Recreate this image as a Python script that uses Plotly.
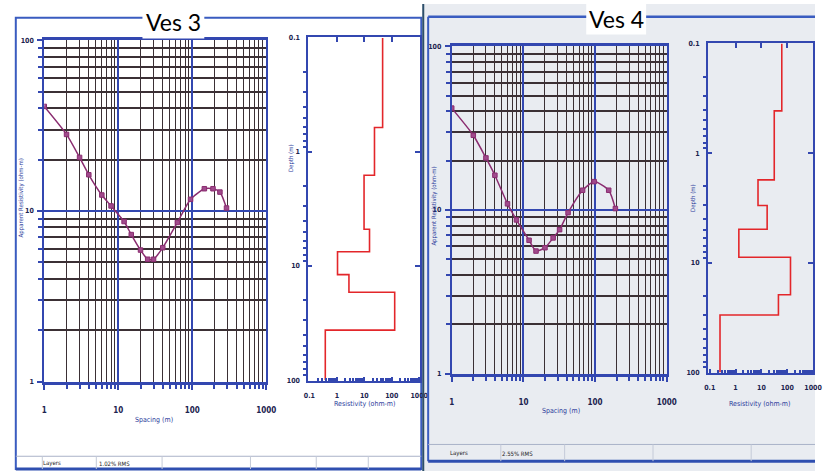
import plotly.graph_objects as go

W, H = 825, 475

# ---------------- data ----------------
# VES 3 field curve
ves3_spacing = [1, 2, 3, 4, 6, 8, 12, 15, 20, 25, 30, 40, 63, 95, 146, 191, 237, 291]
ves3_app_res = [41, 28.1, 20.6, 16.3, 12.4, 10.7, 8.67, 7.27, 5.9, 5.21, 5.21, 6.09, 8.56, 11.7, 13.5, 13.5, 12.9, 10.4]
# VES 3 layer model
ves3_layer_res = [46.5, 23.5, 9.8, 15.5, 1.06, 2.76, 128, 0.38]
ves3_layer_bottom = [0.61, 1.6, 4.76, 7.5, 11.9, 17, 36.5, 100]

# VES 4 field curve
ves4_spacing = [1, 2, 3, 4, 6, 8, 12, 15, 20, 26, 32, 42, 67, 97, 155, 192]
ves4_app_res = [41.9, 28.6, 20.8, 16.3, 10.9, 8.7, 6.53, 5.61, 5.88, 6.75, 7.58, 9.63, 13.2, 14.9, 13.2, 10.2]
# VES 4 layer model
ves4_layer_res = [61.6, 31.5, 7.4, 16.7, 1.34, 134, 45.7, 0.25]
ves4_layer_bottom = [0.41, 1.75, 3.0, 4.95, 8.9, 19.6, 30, 100]

curve_ticks = [1, 10, 100, 1000]
res_ticks = [0.1, 1, 10, 100, 1000]
depth_ticks = [0.1, 1, 10, 100]
titles = ["Ves 3", "Ves 4"]
rms_text = ["1.02% RMS", "2.55% RMS"]

# ---------------- helpers ----------------
BLUE = "#3347b0"
DARK = "#3b3035"
PURPLE = "#8a2c70"
RED = "#e3262a"
TICKFONT = dict(family="Liberation Sans Narrow, DejaVu Sans Condensed", size=8, color="#1c2350", weight="bold")
TICKFONT_Y = dict(family="Liberation Sans Narrow, DejaVu Sans Condensed", size=7, color="#1c2350", weight="bold")
TICKFONT_S = dict(family="Liberation Sans Narrow, DejaVu Sans Condensed", size=7, color="#1c2350", weight="bold")
LABFONT = dict(family="Liberation Sans Narrow, DejaVu Sans Condensed", size=7, color="#2a3a9a")


def px_x(a, b):
    return [a / W, b / W]


def px_y(top, bottom):
    return [1 - bottom / H, 1 - top / H]


def steps(res, bottoms, top=0.1):
    xs, ys = [], []
    t = top
    for r, b in zip(res, bottoms):
        xs += [r, r]
        ys += [t, b]
        t = b
    return xs, ys


def minor_vals(e0, e1):
    return [m * 10 ** e for e in range(e0, e1) for m in range(2, 10)]


fig = go.Figure()

# curves
fig.add_trace(go.Scatter(x=ves3_spacing, y=ves3_app_res, mode="lines+markers",
                         line=dict(color=PURPLE, width=1.5, shape="spline", smoothing=0.6),
                         marker=dict(symbol="square", size=4.5, color="#a04a8c", line=dict(color=PURPLE, width=1)),
                         xaxis="x", yaxis="y", showlegend=False))
x3, y3 = steps(ves3_layer_res, ves3_layer_bottom)
fig.add_trace(go.Scatter(x=x3, y=y3, mode="lines", line=dict(color=RED, width=1.6),
                         xaxis="x2", yaxis="y2", showlegend=False))
fig.add_trace(go.Scatter(x=ves4_spacing, y=ves4_app_res, mode="lines+markers",
                         line=dict(color=PURPLE, width=1.5, shape="spline", smoothing=0.6),
                         marker=dict(symbol="square", size=4.5, color="#a04a8c", line=dict(color=PURPLE, width=1)),
                         xaxis="x3", yaxis="y3", showlegend=False))
x4, y4 = steps(ves4_layer_res, ves4_layer_bottom)
fig.add_trace(go.Scatter(x=x4, y=y4, mode="lines", line=dict(color=RED, width=1.6),
                         xaxis="x4", yaxis="y4", showlegend=False))
# empty traces so the top/right tick axes of the layer plots are drawn
fig.add_trace(go.Scatter(x=[], y=[], xaxis="x5", yaxis="y5", showlegend=False, hoverinfo="skip"))
fig.add_trace(go.Scatter(x=[], y=[], xaxis="x6", yaxis="y6", showlegend=False, hoverinfo="skip"))


def curve_xaxis(domain, anchor):
    return dict(type="log", range=[0, 3], domain=domain, anchor=anchor,
                tickmode="array", tickvals=curve_ticks, ticktext=[str(v) for v in curve_ticks],
                showgrid=True, gridcolor=BLUE, gridwidth=1.5,
                minor=dict(tickmode="array", tickvals=minor_vals(0, 3), showgrid=True, gridcolor=DARK,
                           gridwidth=1.1, ticks="outside", ticklen=4, tickcolor=BLUE),
                showline=True, linecolor=BLUE, linewidth=3, mirror=True,
                ticks="outside", ticklen=5, tickcolor=BLUE, tickwidth=1.5,
                tickfont=TICKFONT, ticklabelstandoff=14, zeroline=False, fixedrange=True)


def curve_yaxis(domain, anchor):
    return dict(type="log", range=[0, 2], domain=domain, anchor=anchor,
                tickmode="array", tickvals=[1, 10, 100], ticktext=["1", "10", "100"],
                showgrid=True, gridcolor=BLUE, gridwidth=2,
                minor=dict(tickmode="array", tickvals=minor_vals(0, 2), showgrid=True, gridcolor=DARK,
                           gridwidth=2, ticks="outside", ticklen=4, tickcolor=BLUE),
                showline=True, linecolor=BLUE, linewidth=2, mirror=True,
                ticks="outside", ticklen=5, tickcolor=BLUE, tickwidth=1.5,
                tickfont=TICKFONT_Y, ticklabelstandoff=2, zeroline=False, fixedrange=True)


def layer_xaxis(domain, anchor, rng):
    return dict(type="log", range=rng, domain=domain, anchor=anchor,
                tickmode="array", tickvals=res_ticks, ticktext=["0.1", "1", "10", "100", "1000"],
                showgrid=False,
                minor=dict(tickmode="array", tickvals=minor_vals(-1, 3), ticks="inside", ticklen=3,
                           tickcolor=BLUE, showgrid=False),
                showline=True, linecolor=BLUE, linewidth=2, mirror=True,
                ticks="inside", ticklen=4, tickcolor=BLUE, tickwidth=1.5,
                tickfont=TICKFONT_S, ticklabelstandoff=7, zeroline=False, fixedrange=True)


def layer_yaxis(domain, anchor, rng):
    return dict(type="log", range=rng, domain=domain, anchor=anchor,
                tickmode="array", tickvals=depth_ticks, ticktext=["0.1", "1", "10", "100"],
                showgrid=False,
                minor=dict(tickmode="array", tickvals=minor_vals(-1, 2), ticks="outside", ticklen=3,
                           tickcolor=BLUE, tickwidth=1.5, showgrid=False),
                showline=True, linecolor=BLUE, linewidth=2, mirror=True,
                ticks="inside", ticklen=4, tickcolor=BLUE, tickwidth=1.5,
                tickfont=TICKFONT_S, ticklabelstandoff=5, zeroline=False, fixedrange=True)


def top_axis(domain, anchor, rng):
    return dict(type="log", range=rng, domain=domain, anchor=anchor, side="top",
                tickmode="array", tickvals=[1, 10, 100], showticklabels=False,
                ticks="inside", ticklen=5, tickwidth=1.5, tickcolor=BLUE,
                showgrid=False, showline=False, zeroline=False, fixedrange=True)


def right_axis(domain, anchor, rng):
    return dict(type="log", range=rng, domain=domain, anchor=anchor, side="right",
                tickmode="array", tickvals=[1, 10], showticklabels=False,
                ticks="inside", ticklen=5, tickwidth=1.5, tickcolor=BLUE,
                showgrid=False, showline=False, zeroline=False, fixedrange=True)


shapes = []
# right screenshot background
shapes.append(dict(type="rect", xref="paper", yref="paper", x0=425 / W, x1=1, y0=0, y1=1,
                   fillcolor="#e9ecf1", line=dict(width=0), layer="below"))
# left panel frame
shapes.append(dict(type="rect", xref="paper", yref="paper", x0=11 / W, x1=424 / W, y0=1 - 473 / H, y1=1 - 14 / H,
                   line=dict(color="#3a5cc0", width=2), layer="below"))
shapes.append(dict(type="line", xref="paper", yref="paper", x0=11 / W, x1=424 / W, y0=1 - 473 / H, y1=1 - 473 / H,
                   line=dict(color="#2f4fb0", width=3)))
shapes.append(dict(type="line", xref="paper", yref="paper", x0=11 / W, x1=424 / W, y0=1 - 460 / H, y1=1 - 460 / H,
                   line=dict(color="#aab2c8", width=1)))
for sx in [38, 93, 160, 250, 317, 370]:
    shapes.append(dict(type="line", xref="paper", yref="paper", x0=sx / W, x1=sx / W, y0=1 - 473 / H, y1=1 - 460 / H,
                       line=dict(color="#c4cad8", width=1)))
# divider between screenshots
shapes.append(dict(type="line", xref="paper", yref="paper", x0=426 / W, x1=426 / W, y0=0, y1=1,
                   line=dict(color="#2d4f6a", width=2)))
# right panel frame
shapes.append(dict(type="line", xref="paper", yref="paper", x0=431 / W, x1=431 / W, y0=1 - 465 / H, y1=1 - 13 / H,
                   line=dict(color="#3a5cc0", width=2)))
shapes.append(dict(type="line", xref="paper", yref="paper", x0=431 / W, x1=1, y0=1 - 13 / H, y1=1 - 13 / H,
                   line=dict(color="#3a5cc0", width=2.5)))
shapes.append(dict(type="line", xref="paper", yref="paper", x0=431 / W, x1=1, y0=1 - 465 / H, y1=1 - 465 / H,
                   line=dict(color="#2f4fb0", width=3)))
shapes.append(dict(type="line", xref="paper", yref="paper", x0=431 / W, x1=1, y0=1 - 448 / H, y1=1 - 448 / H,
                   line=dict(color="#aab2c8", width=1)))
for sx in [505, 570, 660, 760]:
    shapes.append(dict(type="line", xref="paper", yref="paper", x0=sx / W, x1=sx / W, y0=1 - 465 / H, y1=1 - 448 / H,
                       line=dict(color="#c4cad8", width=1)))
# title boxes
shapes.append(dict(type="rect", xref="paper", yref="paper", x0=140 / W, x1=203 / W, y0=1 - 35 / H, y1=1,
                   fillcolor="white", line=dict(width=0)))
shapes.append(dict(type="rect", xref="paper", yref="paper", x0=592 / W, x1=653 / W, y0=1 - 31 / H, y1=1,
                   fillcolor="white", line=dict(width=0)))

ann = []
TFONT = dict(family="Lato, Open Sans, sans-serif", size=23, color="black")


def lab(text, x, y, rot=0, font=LABFONT):
    ann.append(dict(text=text, x=x / W, y=1 - y / H, xref="paper", yref="paper", showarrow=False,
                    xanchor="center", yanchor="middle", textangle=rot, font=font))


lab(titles[0], 171.5, 18, 0, TFONT)
lab(titles[1], 622.5, 15, 0, TFONT)
lab("Spacing (m)", 152, 423)
lab("Spacing (m)", 566, 414)
lab("Apparent Resistivity (ohm-m)", 16, 197, -90, dict(LABFONT, size=6))
lab("Apparent Resistivity (ohm-m)", 436, 206, -90, dict(LABFONT, size=6))
lab("Depth (m)", 292, 157, -90, dict(LABFONT, size=6))
lab("Depth (m)", 700, 197, -90, dict(LABFONT, size=6))
lab("Resistivity (ohm-m)", 366, 407)
lab("Resistivity (ohm-m)", 768, 407)
SFONT = dict(family="Liberation Sans Narrow, DejaVu Sans Condensed", size=6, color="#222")
lab("Layers", 48, 467, 0, SFONT)
lab(rms_text[0], 112, 467, 0, SFONT)
lab("Layers", 462, 457, 0, SFONT)
lab(rms_text[1], 522, 457, 0, SFONT)

L3X, L3Y = [-1.036, 3.04], [2.004, -1.004]
L4X, L4Y = [-1.068, 3.0], [2.004, -1.004]

fig.update_layout(
    width=W, height=H, autosize=False,
    margin=dict(l=0, r=0, t=0, b=0),
    paper_bgcolor="white", plot_bgcolor="rgba(0,0,0,0)",
    xaxis=curve_xaxis(px_x(40, 266), "y"),
    yaxis=curve_yaxis(px_y(37, 384), "x"),
    xaxis2=layer_xaxis(px_x(309, 423), "y2", L3X),
    yaxis2=layer_yaxis(px_y(34, 383), "x2", L3Y),
    xaxis3=curve_xaxis(px_x(455, 674), "y3"),
    yaxis3=curve_yaxis(px_y(43, 376), "x3"),
    xaxis4=layer_xaxis(px_x(716, 823), "y4", L4X),
    yaxis4=layer_yaxis(px_y(40, 375), "x4", L4Y),
    xaxis5=top_axis(px_x(309, 423), "y5", L3X),
    yaxis5=right_axis(px_y(34, 383), "x5", L3Y),
    xaxis6=top_axis(px_x(716, 823), "y6", L4X),
    yaxis6=right_axis(px_y(40, 375), "x6", L4Y),
    shapes=shapes, annotations=ann,
)

fig.write_html("out.html", config={"displayModeBar": False},
               post_script="document.body.style.margin='0px';document.body.style.overflow='hidden';")
